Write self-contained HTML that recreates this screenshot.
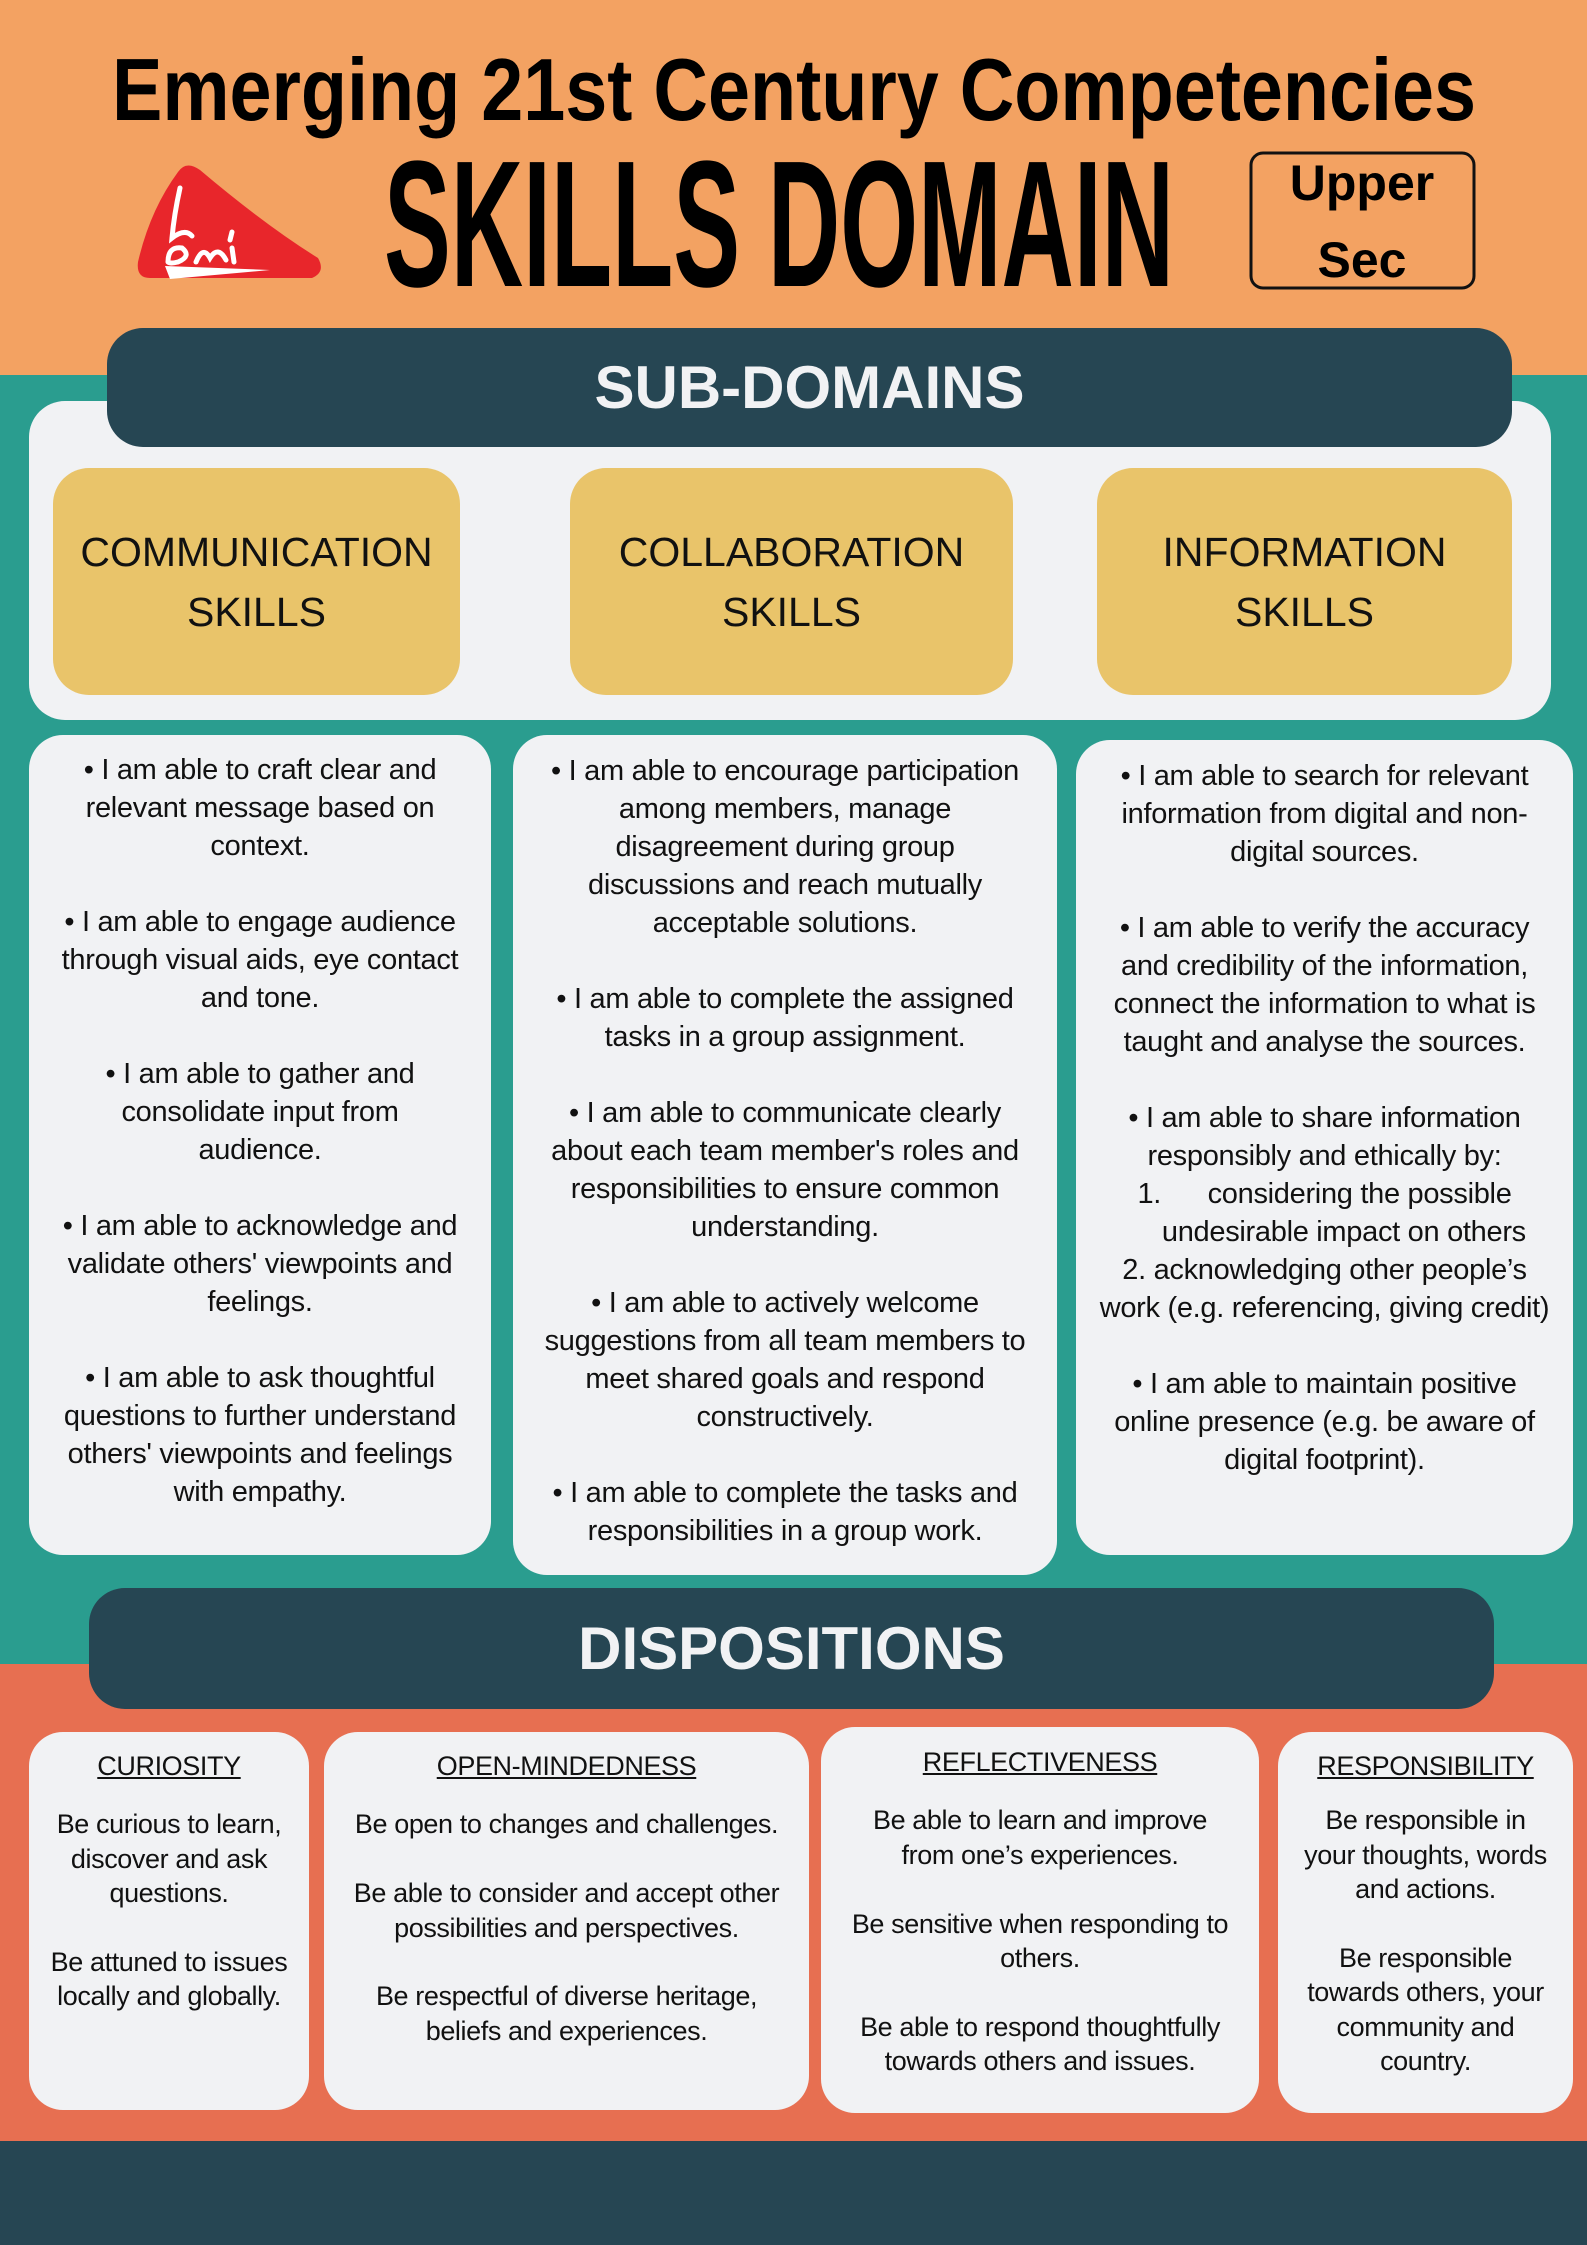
<!DOCTYPE html>
<html><head><meta charset="utf-8"><style>
*{margin:0;padding:0;box-sizing:border-box}
body{width:1587px;height:2245px;position:relative;overflow:hidden;font-family:"Liberation Sans",sans-serif;color:#111}
.abs{position:absolute}
.card{position:absolute;background:#f1f2f4;border-radius:34px}
.txt{position:absolute;text-align:center;white-space:nowrap;font-size:29px;line-height:38px;letter-spacing:-0.3px}
.d{position:absolute;text-align:center;white-space:nowrap;font-size:27px;line-height:34.4px;letter-spacing:-0.4px}
.d u{display:block;text-decoration:underline;margin-bottom:24px}
.yb{position:absolute;background:#e9c46a;border-radius:36px;display:flex;align-items:center;justify-content:center;text-align:center;font-size:41px;line-height:60px;color:#111}
.bar{position:absolute;background:#264653;border-radius:36px;color:#f1f2f4;font-weight:bold;text-align:center}
</style></head><body>
<div class="abs" style="left:0;top:0;width:1587px;height:375px;background:#f3a262"></div>
<div class="abs" style="left:0;top:375px;width:1587px;height:1289px;background:#2a9d8f"></div>
<div class="abs" style="left:0;top:1664px;width:1587px;height:477px;background:#e76f51"></div>
<div class="abs" style="left:0;top:2141px;width:1587px;height:104px;background:#264653"></div>

<svg class="abs" style="left:0;top:0" width="1587" height="375">
<text x="112" y="120" font-family="Liberation Sans" font-weight="bold" font-size="88" textLength="1364" lengthAdjust="spacingAndGlyphs">Emerging 21st Century Competencies</text>
<text x="384" y="286" font-family="Liberation Sans" font-weight="bold" font-size="180" textLength="790" lengthAdjust="spacingAndGlyphs">SKILLS DOMAIN</text>
<path d="M178 172 Q186 160 200 170 Q265 225 318 258 Q326 272 312 278 L150 278 Q136 278 138 262 Q150 210 178 172 Z" fill="#e8262b"/>
<path d="M180 188 Q174 215 172 238 Q185 228 192 236 M168 262 Q168 246 182 248 Q192 256 178 262 Q170 264 168 262 M196 262 Q203 245 210 258 Q218 245 226 260 M232 232 L230 240 M234 262 L232 248" stroke="#fff" stroke-width="5" fill="none" stroke-linecap="round"/>
<path d="M165 266 L270 270 L170 279 Z" fill="#fff"/>
<rect x="1251" y="153" width="223" height="135" rx="12" fill="none" stroke="#111" stroke-width="3"/>
<text x="1362" y="200" text-anchor="middle" font-family="Liberation Sans" font-weight="bold" font-size="50">Upper</text>
<text x="1362" y="277" text-anchor="middle" font-family="Liberation Sans" font-weight="bold" font-size="50">Sec</text>
</svg>

<div class="card" style="left:29px;top:401px;width:1522px;height:319px;border-radius:36px"></div>
<div class="bar" style="left:107px;top:328px;width:1405px;height:119px;font-size:60px;line-height:119px">SUB-DOMAINS</div>
<div class="yb" style="left:53px;top:468px;width:407px;height:227px">COMMUNICATION<br>SKILLS</div>
<div class="yb" style="left:570px;top:468px;width:443px;height:227px">COLLABORATION<br>SKILLS</div>
<div class="yb" style="left:1097px;top:468px;width:415px;height:227px">INFORMATION<br>SKILLS</div>

<div class="card" style="left:29px;top:735px;width:462px;height:820px"></div>
<div class="card" style="left:513px;top:735px;width:544px;height:840px"></div>
<div class="card" style="left:1076px;top:740px;width:497px;height:815px"></div>

<div class="txt" style="left:29px;top:751px;width:462px">• I am able to craft clear and<br>relevant message based on<br>context.<br><br>• I am able to engage audience<br>through visual aids, eye contact<br>and tone.<br><br>• I am able to gather and<br>consolidate input from<br>audience.<br><br>• I am able to acknowledge and<br>validate others' viewpoints and<br>feelings.<br><br>• I am able to ask thoughtful<br>questions to further understand<br>others' viewpoints and feelings<br>with empathy.</div>

<div class="txt" style="left:513px;top:752px;width:544px">• I am able to encourage participation<br>among members, manage<br>disagreement during group<br>discussions and reach mutually<br>acceptable solutions.<br><br>• I am able to complete the assigned<br>tasks in a group assignment.<br><br>• I am able to communicate clearly<br>about each team member's roles and<br>responsibilities to ensure common<br>understanding.<br><br>• I am able to actively welcome<br>suggestions from all team members to<br>meet shared goals and respond<br>constructively.<br><br>• I am able to complete the tasks and<br>responsibilities in a group work.</div>

<div class="txt" style="left:1076px;top:757px;width:497px">• I am able to search for relevant<br>information from digital and non-<br>digital sources.<br><br>• I am able to verify the accuracy<br>and credibility of the information,<br>connect the information to what is<br>taught and analyse the sources.<br><br>• I am able to share information<br>responsibly and ethically by:<br>1.&nbsp;&nbsp;&nbsp;&nbsp;&nbsp;&nbsp;considering the possible<br>&nbsp;&nbsp;&nbsp;&nbsp;&nbsp;undesirable impact on others<br>2. acknowledging other people’s<br>work (e.g. referencing, giving credit)<br><br>• I am able to maintain positive<br>online presence (e.g. be aware of<br>digital footprint).</div>

<div class="bar" style="left:89px;top:1588px;width:1405px;height:121px;font-size:60px;line-height:121px">DISPOSITIONS</div>

<div class="card" style="left:29px;top:1732px;width:280px;height:378px"></div>
<div class="card" style="left:324px;top:1732px;width:485px;height:378px"></div>
<div class="card" style="left:821px;top:1727px;width:438px;height:386px"></div>
<div class="card" style="left:1278px;top:1732px;width:295px;height:381px"></div>

<div class="d" style="left:29px;top:1749px;width:280px"><u>CURIOSITY</u>Be curious to learn,<br>discover and ask<br>questions.<br><br>Be attuned to issues<br>locally and globally.</div>
<div class="d" style="left:324px;top:1749px;width:485px"><u>OPEN-MINDEDNESS</u>Be open to changes and challenges.<br><br>Be able to consider and accept other<br>possibilities and perspectives.<br><br>Be respectful of diverse heritage,<br>beliefs and experiences.</div>
<div class="d" style="left:821px;top:1745px;width:438px"><u>REFLECTIVENESS</u>Be able to learn and improve<br>from one’s experiences.<br><br>Be sensitive when responding to<br>others.<br><br>Be able to respond thoughtfully<br>towards others and issues.</div>
<div class="d" style="left:1278px;top:1749px;width:295px"><u style="margin-bottom:20px">RESPONSIBILITY</u>Be responsible in<br>your thoughts, words<br>and actions.<br><br>Be responsible<br>towards others, your<br>community and<br>country.</div>
</body></html>
